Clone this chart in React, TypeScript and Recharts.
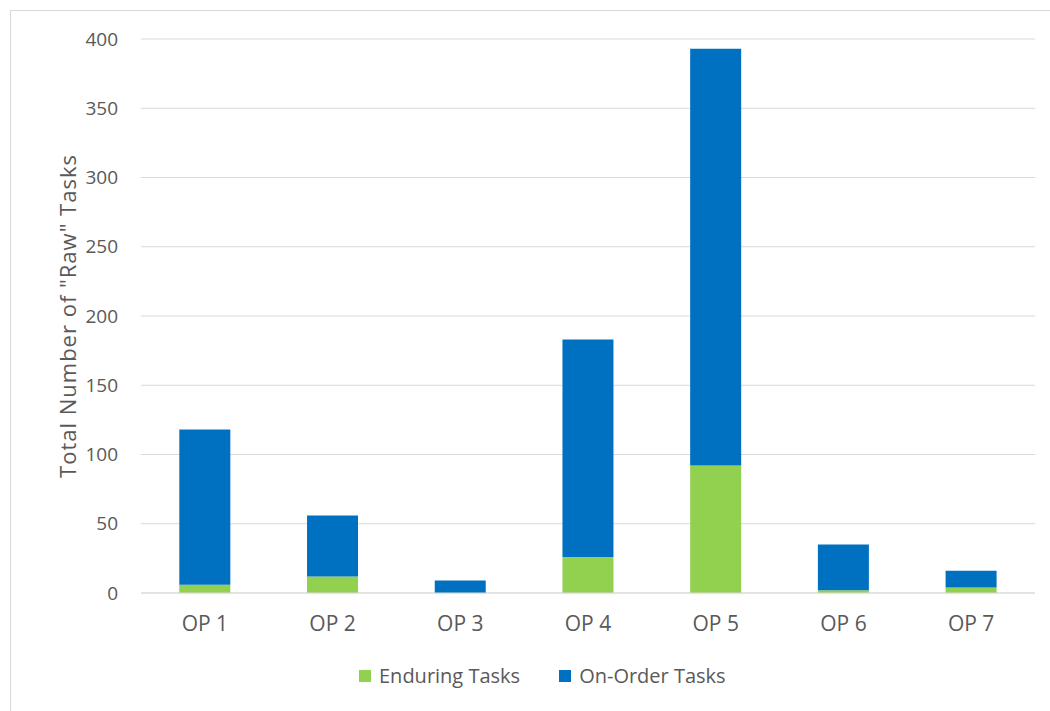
import { Bar, BarChart, CartesianGrid, Label, Legend, XAxis, YAxis } from "recharts";

const categories = ["OP 1", "OP 2", "OP 3", "OP 4", "OP 5", "OP 6", "OP 7"];
const enduringTasks = [6, 12, 0, 26, 92, 2, 4];
const onOrderTasks = [112, 44, 9, 157, 301, 33, 12];
const yTicks = [0, 50, 100, 150, 200, 250, 300, 350, 400];

const GREEN = "#92d050";
const BLUE = "#0070c0";
const INK = "#595959";
const GRID = "#d9d9d9";
const FONT = "'Open Sans', sans-serif";

const data = categories.map((name, i) => ({
  name,
  enduring: enduringTasks[i],
  onOrder: onOrderTasks[i],
}));

const legendItems = [
  { label: "Enduring Tasks", color: GREEN },
  { label: "On-Order Tasks", color: BLUE },
];

function TaskLegend() {
  return (
    <div style={{ display: "flex", alignItems: "center", fontFamily: FONT, fontSize: 20, color: INK, whiteSpace: "nowrap" }}>
      {legendItems.map((item, i) => (
        <div key={item.label} style={{ display: "flex", alignItems: "center", marginRight: i === 0 ? 39 : 0 }}>
          <span style={{ width: 12, height: 12, background: item.color, marginRight: 8, display: "inline-block" }} />
          <span>{item.label}</span>
        </div>
      ))}
    </div>
  );
}

export default function App() {
  return (
    <div style={{ position: "fixed", left: 0, top: 0, width: 1050, height: 711, background: "#fff", overflow: "hidden" }}>
      <div
        style={{
          position: "absolute",
          left: 10,
          top: 10,
          width: 1100,
          height: 800,
          borderLeft: `1px solid ${GRID}`,
          borderTop: `1px solid ${GRID}`,
        }}
      />
      <div style={{ position: "absolute", left: 0, top: 0 }}>
        <BarChart
          width={1050}
          height={711}
          data={data}
          margin={{ top: 39, right: 15, bottom: 88, left: 0 }}
          barCategoryGap="30%"
        >
          <CartesianGrid vertical={false} stroke={GRID} strokeWidth={1.2} />
          <XAxis
            dataKey="name"
            height={30}
            tickLine={false}
            tickSize={0}
            tickMargin={23}
            axisLine={{ stroke: GRID, strokeWidth: 1.2 }}
            tick={{ fill: INK, fontSize: 21, fontFamily: FONT }}
          />
          <YAxis
            width={141}
            domain={[0, 400]}
            ticks={yTicks}
            axisLine={false}
            tickLine={false}
            tickSize={0}
            tickMargin={23}
            tick={{ fill: INK, fontSize: 19, fontFamily: FONT }}
          >
            <Label
              content={({ viewBox }: any) => {
                const cx = viewBox.x + 67;
                const cy = viewBox.y + viewBox.height / 2;
                return (
                  <text
                    x={cx}
                    y={cy}
                    transform={`rotate(-90, ${cx}, ${cy})`}
                    textAnchor="middle"
                    dominantBaseline="central"
                    fill={INK}
                    fontSize={22}
                    letterSpacing={1}
                    fontFamily={FONT}
                  >
                    Total Number of "Raw" Tasks
                  </text>
                );
              }}
            />
          </YAxis>
          <Legend
            layout="horizontal"
            verticalAlign="middle"
            content={<TaskLegend />}
            wrapperStyle={{ left: 359, top: 662, width: "auto", height: "auto" }}
          />
          <Bar dataKey="enduring" name="Enduring Tasks" stackId="tasks" fill={GREEN} isAnimationActive={false} />
          <Bar dataKey="onOrder" name="On-Order Tasks" stackId="tasks" fill={BLUE} isAnimationActive={false} />
        </BarChart>
      </div>
    </div>
  );
}
